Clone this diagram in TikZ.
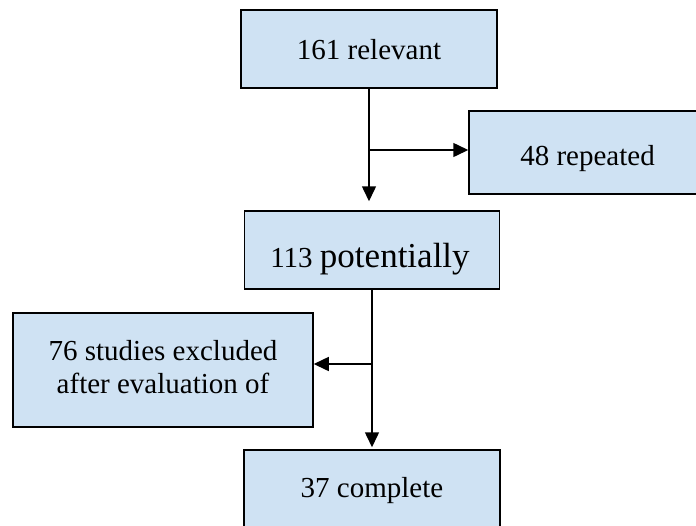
\documentclass[tikz,border=0pt]{standalone}
\usepackage{fontspec}
\setmainfont{Liberation Serif}
\usetikzlibrary{arrows.meta}
\definecolor{boxfill}{RGB}{207,226,243}
\tikzset{
  box/.style={draw=black, line width=1.5pt, fill=boxfill, rectangle, inner sep=0pt},
  lbl/.style={inner sep=0pt, anchor=base, font=\fontsize{29}{33}\selectfont},
  arr/.style={line width=1.5pt, -{Triangle[length=15pt,width=14pt]}}
}
\begin{document}
\begin{tikzpicture}[x=1pt,y=-1pt]
\useasboundingbox (0,0) rectangle (696,525);
\clip (0,0) rectangle (696,525);
\node[box, minimum width=256pt, minimum height=78pt] (b1) at (369,49) {};
\node[box, minimum width=240pt, minimum height=83pt] (b2) at (589,152.5) {};
\node[box, minimum width=255pt, minimum height=78pt] (b3) at (372,250) {};
\node[box, minimum width=300pt, minimum height=114pt] (b4) at (163,370) {};
\node[box, minimum width=256pt, minimum height=90pt] (b5) at (372,495) {};

\node[lbl] (t1) at (369,59) {161 relevant};
\node[lbl] (t2) at (587.5,165) {48 repeated};
\node[lbl] (t3) at (370,267) {113 {\fontsize{35}{40}\selectfont potentially}};
\node[lbl] (t4a) at (163,360) {76 studies excluded};
\node[lbl] (t4b) at (163,393) {after evaluation of};
\node[lbl] (t5) at (372,497) {37 complete};

\draw[arr, shorten >=9pt] (b1.south) -- (b1.south |- b3.north);
\coordinate (j1) at (369,150);
\draw[arr] (j1) -- (j1 -| b2.west);
\draw[arr, shorten >=2pt] (b3.south) -- (b3.south |- b5.north);
\coordinate (j2) at (372,364);
\draw[arr] (j2) -- (j2 -| b4.east);
\end{tikzpicture}
\end{document}
